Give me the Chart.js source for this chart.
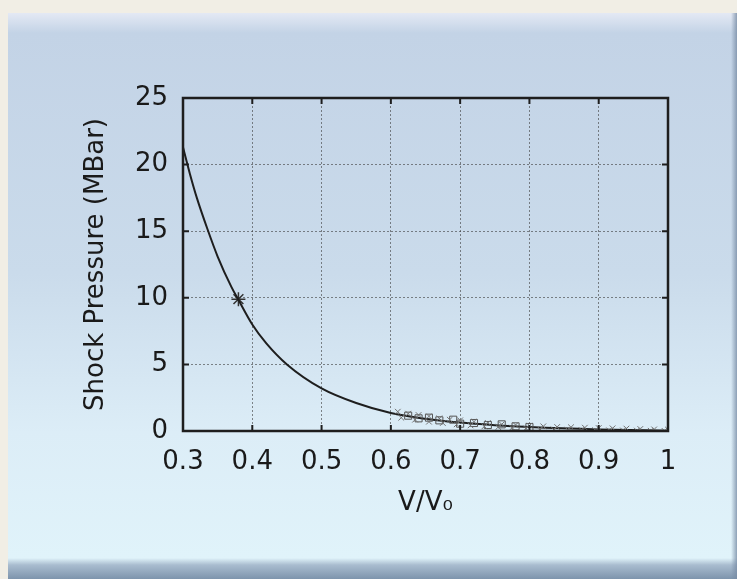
<!DOCTYPE html>
<html>
<head>
<meta charset="utf-8">
<script src="https://cdn.jsdelivr.net/npm/chart.js@4"></script>
<style>
  html, body { margin: 0; padding: 0; }
  body { width: 737px; height: 579px; background: #f1eee5; position: relative; overflow: hidden; }
  .panel {
    position: absolute; left: 8px; top: 13px; width: 729px; height: 566px;
    background: linear-gradient(to bottom, #e4e9f4 0px, #c3d3e6 20px, #cadbeb 260px, #dcedf7 420px, #e0f3fa 545px, #a9bccf 552px, #7d94ac 566px);
  }
  .panel::after {
    content: ''; position: absolute; right: 0; top: 0; width: 6px; height: 100%;
    background: linear-gradient(to right, rgba(150,170,195,0), rgba(120,140,165,0.8));
  }
  canvas { position: absolute; left: 0; top: 0; }
</style>
</head>
<body>
<div class="panel"></div>
<canvas id="chart" width="737" height="579"></canvas>
<script>
// fitted curve
const curveX = [0.30, 0.31, 0.32, 0.335, 0.35, 0.37, 0.38, 0.40, 0.42, 0.45, 0.50, 0.55, 0.60, 0.65, 0.70, 0.75, 0.80, 0.90, 1.00];
const curveY = [21.3, 19.3, 17.5, 15.2, 13.1, 10.8, 9.85, 8.0, 6.6, 5.0, 3.2, 2.1, 1.35, 0.92, 0.63, 0.44, 0.3, 0.12, 0.02];

// star point
const starX = [0.38];
const starY = [9.9];

// square points
const squareX = [0.625, 0.64, 0.655, 0.67, 0.69, 0.70, 0.72, 0.74, 0.76, 0.78, 0.80];
const squareY = [1.15, 0.95, 1.0, 0.8, 0.85, 0.55, 0.6, 0.45, 0.5, 0.35, 0.3];

// cross points
const crossX = [0.61, 0.625, 0.64, 0.655, 0.67, 0.685, 0.70, 0.72, 0.74, 0.76, 0.78, 0.80, 0.82, 0.84, 0.86, 0.88, 0.90, 0.92, 0.94, 0.96, 0.98, 1.0,
                0.615, 0.635, 0.655, 0.675, 0.695, 0.715, 0.735, 0.755, 0.775, 0.795, 0.815, 0.835, 0.855, 0.875, 0.895, 0.915, 0.935, 0.955, 0.975, 0.995];
const crossY = [1.45, 1.3, 1.2, 1.1, 0.95, 0.85, 0.8, 0.7, 0.6, 0.5, 0.45, 0.4, 0.35, 0.3, 0.28, 0.25, 0.22, 0.2, 0.18, 0.15, 0.12, 0.1,
                1.0, 0.85, 0.7, 0.6, 0.5, 0.42, 0.35, 0.3, 0.25, 0.2, 0.15, 0.12, 0.1, 0.08, 0.06, 0.05, 0.04, 0.03, 0.02, 0.01];

const xTicks = [0.3, 0.4, 0.5, 0.6, 0.7, 0.8, 0.9, 1];
const yTicks = [0, 5, 10, 15, 20, 25];

function pts(xs, ys) {
  return xs.map((x, i) => ({ x: x, y: ys[i] }));
}

// gnuplot style box with inward ticks
const frame = {
  id: 'frame',
  afterDatasetsDraw(chart) {
    const a = chart.chartArea;
    const ctx = chart.ctx;
    const sx = chart.scales.x, sy = chart.scales.y;
    ctx.save();
    ctx.strokeStyle = '#1e1e1e';
    ctx.lineWidth = 2;
    ctx.beginPath();
    xTicks.forEach(v => {
      const px = sx.getPixelForValue(v);
      ctx.moveTo(px, a.bottom); ctx.lineTo(px, a.bottom - 6);
      ctx.moveTo(px, a.top); ctx.lineTo(px, a.top + 6);
    });
    yTicks.forEach(v => {
      const py = sy.getPixelForValue(v);
      ctx.moveTo(a.left, py); ctx.lineTo(a.left + 6, py);
      ctx.moveTo(a.right, py); ctx.lineTo(a.right - 6, py);
    });
    ctx.stroke();
    ctx.lineWidth = 2.5;
    ctx.strokeRect(a.left, a.top, a.right - a.left, a.bottom - a.top);
    ctx.restore();
  }
};

const font = { family: 'DejaVu Sans, sans-serif', size: 26 };

new Chart(document.getElementById('chart'), {
  type: 'scatter',
  data: {
    datasets: [
      {
        label: 'crosses',
        data: pts(crossX, crossY),
        pointStyle: 'crossRot',
        pointRadius: 4,
        borderColor: '#707070',
        borderWidth: 1,
        showLine: false
      },
      {
        label: 'squares',
        data: pts(squareX, squareY),
        pointStyle: 'rect',
        pointRadius: 5,
        borderColor: '#555',
        backgroundColor: 'rgba(0,0,0,0)',
        borderWidth: 1,
        showLine: false
      },
      {
        label: 'fit',
        data: pts(curveX, curveY),
        showLine: true,
        borderColor: '#1e1e1e',
        borderWidth: 2,
        pointRadius: 0,
        cubicInterpolationMode: 'monotone'
      },
      {
        label: 'star',
        data: pts(starX, starY),
        pointStyle: 'star',
        pointRadius: 7,
        borderColor: '#333',
        borderWidth: 1.5,
        showLine: false
      }
    ]
  },
  options: {
    responsive: false,
    animation: false,
    layout: { padding: { left: 0, top: 98, right: 69, bottom: 56 } },
    plugins: { legend: { display: false }, tooltip: { enabled: false } },
    scales: {
      x: {
        type: 'linear',
        min: 0.3,
        max: 1,
        afterFit: s => { s.height = 92; },
        afterBuildTicks: s => { s.ticks = xTicks.map(v => ({ value: v })); },
        ticks: {
          color: '#1a1a1a',
          font: font,
          padding: 16,
          callback: v => String(v)
        },
        grid: { color: 'rgba(60,60,60,0.6)', lineWidth: 1, drawTicks: false },
        border: { display: false, dash: [2, 2] },
        title: {
          display: true,
          text: 'V/V₀',
          color: '#1a1a1a',
          font: font,
          padding: { top: 4, bottom: 4 }
        }
      },
      y: {
        type: 'linear',
        min: 0,
        max: 25,
        afterFit: s => { s.width = 183; },
        afterBuildTicks: s => { s.ticks = yTicks.map(v => ({ value: v })); },
        ticks: {
          color: '#1a1a1a',
          font: font,
          padding: 15
        },
        grid: { color: 'rgba(60,60,60,0.6)', lineWidth: 1, drawTicks: false },
        border: { display: false, dash: [2, 2] },
        title: {
          display: true,
          text: 'Shock Pressure (MBar)',
          color: '#1a1a1a',
          font: font,
          padding: { top: 81 }
        }
      }
    }
  },
  plugins: [frame]
});
</script>
</body>
</html>
